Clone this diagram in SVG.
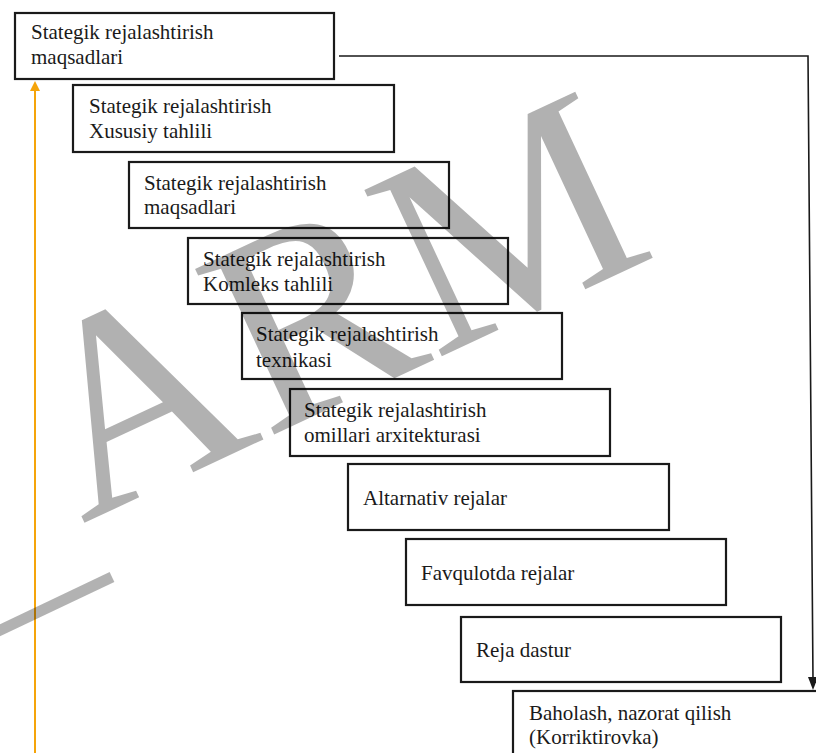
<svg xmlns="http://www.w3.org/2000/svg" width="816" height="753" viewBox="0 0 816 753">
<defs>
<style>
.box{fill:#fff;stroke:#1a1a1a;stroke-width:2.2}
.t{font-family:"Liberation Serif","Times New Roman",serif;font-size:21px;fill:#1a1a1a}
.wm{font-family:"Liberation Serif","Times New Roman",serif;font-size:280px;fill:#000;opacity:0.3}
</style>
</defs>
<rect width="816" height="753" fill="#fff"/>
<g id="connectors">
<line x1="35" y1="753" x2="35" y2="90" stroke="#f5a40a" stroke-width="2"/>
<polygon points="35,81 30,91 40,91" fill="#f5a40a"/>
<polyline points="339,56 808,56 813,680" fill="none" stroke="#1a1a1a" stroke-width="1.6"/>
<polygon points="813,690 808,677 818,677" fill="#1a1a1a"/>
</g>
<g id="n1"><rect class="box" x="15" y="13" width="319" height="66"/><text class="t" x="31" y="39">Stategik rejalashtirish</text><text class="t" x="31" y="64">maqsadlari</text></g>
<g id="n2"><rect class="box" x="73" y="85" width="321" height="67"/><text class="t" x="89" y="113">Stategik rejalashtirish</text><text class="t" x="89" y="138">Xususiy tahlili</text></g>
<g id="n3"><rect class="box" x="129" y="162" width="320" height="66"/><text class="t" x="144" y="190">Stategik rejalashtirish</text><text class="t" x="144" y="214">maqsadlari</text></g>
<g id="n4"><rect class="box" x="188" y="238" width="320" height="66"/><text class="t" x="203" y="266">Stategik rejalashtirish</text><text class="t" x="203" y="291">Komleks tahlili</text></g>
<g id="n5"><rect class="box" x="242" y="313" width="320" height="66"/><text class="t" x="256" y="341">Stategik rejalashtirish</text><text class="t" x="256" y="367">texnikasi</text></g>
<g id="n6"><rect class="box" x="290" y="389" width="320" height="67"/><text class="t" x="304" y="417">Stategik rejalashtirish</text><text class="t" x="304" y="442">omillari arxitekturasi</text></g>
<g id="n7"><rect class="box" x="348" y="464" width="321" height="66"/><text class="t" x="363" y="505">Altarnativ rejalar</text></g>
<g id="n8"><rect class="box" x="406" y="539" width="320" height="66"/><text class="t" x="421" y="580">Favqulotda rejalar</text></g>
<g id="n9"><rect class="box" x="461" y="617" width="320" height="65"/><text class="t" x="476" y="657">Reja dastur</text></g>
<g id="n10"><rect class="box" x="513" y="691" width="320" height="80"/><text class="t" x="529" y="720">Baholash, nazorat qilish</text><text class="t" x="529" y="744">(Korriktirovka)</text></g>
<g id="watermark">
<text class="wm" transform="translate(82,524) rotate(-25)">ARM</text>
<line x1="-10" y1="635" x2="112" y2="577" stroke="#000" stroke-opacity="0.3" stroke-width="11"/>
</g>
</svg>
